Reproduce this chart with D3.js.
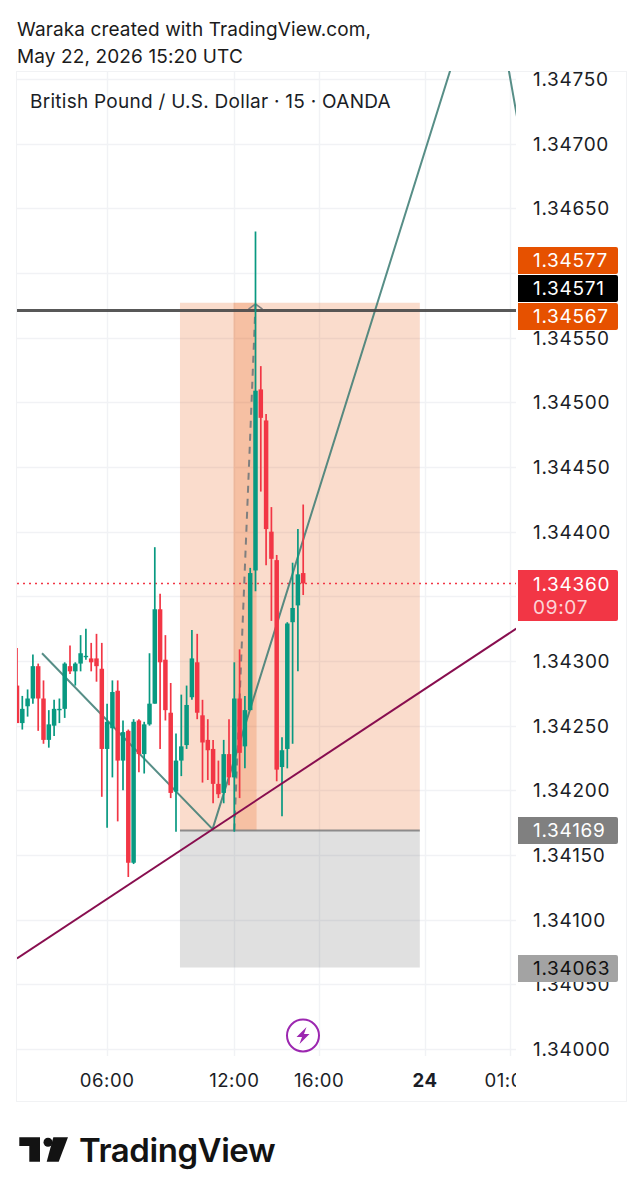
<!DOCTYPE html>
<html><head><meta charset="utf-8">
<script src="https://cdn.jsdelivr.net/npm/d3@7"></script>
<style>html,body{margin:0;background:#fff}svg{display:block}text{font-family:Inter,"Noto Sans",sans-serif}</style>
</head><body><div id="c"></div>
<script>
const opens =[1.34281,1.34252,1.34265,1.34271,1.34296,1.34271,1.34239,1.34250,1.34262,1.34263,1.34296,1.34292,1.34298,1.34303,1.34302,1.34302,1.34294,1.34232,1.34248,1.34277,1.34223,1.34246,1.34144,1.34254,1.34228,1.34251,1.34267,1.34340,1.34301,1.34260,1.34199,1.34223,1.34235,1.34272,1.34299,1.34258,1.34239,1.34232,1.34205,1.34198,1.34228,1.34210,1.34271,1.34234,1.34262,1.34370,1.34510,1.34486,1.34400,1.34378,1.34218,1.34232,1.34330,1.34343,1.34368];
const highs =[1.34310,1.34273,1.34278,1.34305,1.34298,1.34285,1.34262,1.34270,1.34271,1.34299,1.34312,1.34299,1.34320,1.34325,1.34314,1.34321,1.34314,1.34267,1.34285,1.34285,1.34254,1.34247,1.34255,1.34255,1.34253,1.34306,1.34388,1.34352,1.34320,1.34283,1.34244,1.34274,1.34281,1.34324,1.34321,1.34270,1.34255,1.34239,1.34223,1.34239,1.34255,1.34299,1.34309,1.34273,1.34372,1.34632,1.34528,1.34491,1.34419,1.34382,1.34241,1.34330,1.34376,1.34402,1.34421];
const lows  =[1.34252,1.34247,1.34257,1.34267,1.34246,1.34236,1.34233,1.34242,1.34252,1.34256,1.34290,1.34281,1.34292,1.34301,1.34292,1.34284,1.34195,1.34171,1.34210,1.34176,1.34200,1.34133,1.34143,1.34214,1.34213,1.34250,1.34267,1.34232,1.34254,1.34194,1.34168,1.34211,1.34232,1.34270,1.34255,1.34206,1.34208,1.34190,1.34194,1.34190,1.34204,1.34168,1.34194,1.34217,1.34262,1.34354,1.34431,1.34374,1.34331,1.34207,1.34180,1.34217,1.34236,1.34292,1.34351];
const closes=[1.34252,1.34263,1.34271,1.34296,1.34271,1.34239,1.34251,1.34263,1.34263,1.34298,1.34292,1.34298,1.34306,1.34304,1.34299,1.34296,1.34232,1.34253,1.34276,1.34223,1.34245,1.34144,1.34253,1.34228,1.34251,1.34267,1.34340,1.34299,1.34262,1.34198,1.34223,1.34234,1.34266,1.34302,1.34260,1.34237,1.34231,1.34205,1.34197,1.34228,1.34210,1.34271,1.34229,1.34262,1.34368,1.34509,1.34488,1.34402,1.34379,1.34216,1.34231,1.34329,1.34341,1.34367,1.34360];

const priceTicks=[1.34,1.3405,1.341,1.3415,1.342,1.3425,1.343,1.3435,1.344,1.3445,1.345,1.3455,1.346,1.3465,1.347,1.3475];
const hiddenPriceLabels=[1.3435,1.346];
const timeTickBars=[17,41,57,77,93];
const timeTickLabels=["06:00","12:00","16:00","24","01:00"];

const positionBars=[30.75,76];
const positionPrices={stop:1.34577,entry:1.34169,target:1.34063};
const bandBars=[40.85,45.2];
const levelPrice=1.34571, lastPrice=1.3436;
const zigzagBars=[4.72,36.9,88.8,96.8];
const zigzagPrices=[1.34306,1.3417,1.34849,1.34664];
const arrowBars=[41,45];
const arrowPrices=[1.34169,1.34576];
const trendBars=[0,94.2];
const trendPrices=[1.3407,1.34325];

const labels=[
 {text:"1.34577",fill:"#E65100",top:247,h:27,color:"#fff"},
 {text:"1.34571",fill:"#000",top:275,h:27,color:"#fff"},
 {text:"1.34567",fill:"#E65100",top:303,h:27,color:"#fff"},
 {text:"1.34169",fill:"#808080",top:817,h:27,color:"#fff"},
 {text:"1.34063",fill:"#a3a3a3",top:955,h:27,color:"#111"}
];

const W=643,H=1199;
const L=17,R=516,T=71,B=1101;
const x=d3.scaleLinear().domain([0,93]).range([17,17+93*5.3]);
const y=d3.scaleLinear().domain([1.34,1.3475]).range([1049,79]);
const UP="#089981",DN="#F23645",GRID="#f1f2f5",INK="#1a1d26";
const PRICE_LS="0.7px", PRICE_FS=19;

const svg=d3.select("#c").append("svg").attr("width",W).attr("height",H).attr("viewBox",[0,0,W,H]);
svg.append("rect").attr("width",W).attr("height",H).attr("fill","#fff");
const defs=svg.append("defs");
defs.append("clipPath").attr("id","pane").append("rect").attr("x",L).attr("y",T).attr("width",R-L).attr("height",1056-T);
defs.append("clipPath").attr("id","axisx").append("rect").attr("x",L).attr("y",1056).attr("width",R-L).attr("height",B-1056);

// frame
svg.append("rect").attr("x",16.5).attr("y",71.5).attr("width",610).attr("height",1030).attr("fill","none").attr("stroke","#f1f2f4");

// title
const title=svg.append("g").attr("fill","#1b1b1b").attr("font-size",19).attr("letter-spacing","0.12px");
title.append("text").attr("x",17).attr("y",36).text("Waraka created with TradingView.com,");
title.append("text").attr("x",17).attr("y",63).text("May 22, 2026 15:20 UTC");

const pane=svg.append("g").attr("clip-path","url(#pane)");
// grid
pane.append("g").selectAll("line").data(priceTicks).join("line")
 .attr("x1",L).attr("x2",R).attr("y1",d=>Math.round(y(d))+.5).attr("y2",d=>Math.round(y(d))+.5)
 .attr("stroke",GRID).attr("stroke-width",1.4);
pane.append("g").selectAll("line").data(timeTickBars).join("line")
 .attr("x1",d=>Math.round(x(d))+.5).attr("x2",d=>Math.round(x(d))+.5).attr("y1",T).attr("y2",1056)
 .attr("stroke",GRID).attr("stroke-width",1.4);

// position tool
const px0=x(positionBars[0]),px1=x(positionBars[1]);
pane.append("rect").attr("x",px0).attr("width",px1-px0).attr("y",y(positionPrices.stop)).attr("height",y(positionPrices.entry)-y(positionPrices.stop)).attr("fill","#E65100").attr("fill-opacity",.2);
pane.append("rect").attr("x",px0).attr("width",px1-px0).attr("y",y(positionPrices.entry)).attr("height",y(positionPrices.target)-y(positionPrices.entry)).attr("fill","#646464").attr("fill-opacity",.2);
pane.append("rect").attr("x",x(bandBars[0])).attr("width",x(bandBars[1])-x(bandBars[0])).attr("y",y(positionPrices.stop)).attr("height",y(positionPrices.entry)-y(positionPrices.stop)).attr("fill","#E65100").attr("fill-opacity",.2);
pane.append("line").attr("x1",px0).attr("x2",px1).attr("y1",y(positionPrices.entry)).attr("y2",y(positionPrices.entry)).attr("stroke","#7d7d7d").attr("stroke-opacity",.85).attr("stroke-width",2);

// last price + level
pane.append("line").attr("x1",L).attr("x2",R).attr("y1",y(lastPrice)).attr("y2",y(lastPrice)).attr("stroke",DN).attr("stroke-width",1.5).attr("stroke-dasharray","2 4");

// drawings behind candles
const lineGen=d3.line().x(d=>x(d[0])).y(d=>y(d[1]));
pane.append("path").attr("d",lineGen(d3.zip(zigzagBars,zigzagPrices))).attr("fill","none").attr("stroke","#3a7a72").attr("stroke-opacity",.85).attr("stroke-width",2);
pane.append("path").attr("d",lineGen(d3.zip(arrowBars,arrowPrices))).attr("fill","none").attr("stroke","#7f7f7f").attr("stroke-width",2).attr("stroke-dasharray","7 6");
const tipX=x(arrowBars[1]),tipY=y(arrowPrices[1]);
pane.append("path").attr("d",`M${tipX-7},${tipY+5}L${tipX},${tipY}L${tipX+7},${tipY+5}`).attr("fill","none").attr("stroke","#7f7f7f").attr("stroke-width",1.6);
pane.append("line").attr("x1",L).attr("x2",R).attr("y1",y(levelPrice)).attr("y2",y(levelPrice)).attr("stroke","#4a4a4a").attr("stroke-opacity",.92).attr("stroke-width",3);

// candles
const bars=d3.range(opens.length).map(i=>({i,o:opens[i],h:highs[i],l:lows[i],c:closes[i]}));
const g=pane.append("g");
g.selectAll(".w").data(bars).join("line").attr("class","w")
 .attr("x1",d=>x(d.i)).attr("x2",d=>x(d.i)).attr("y1",d=>y(d.h)).attr("y2",d=>y(d.l))
 .attr("stroke",d=>d.c>=d.o?UP:DN).attr("stroke-width",1.7);
g.selectAll(".b").data(bars).join("rect").attr("class","b")
 .attr("x",d=>x(d.i)-2.25).attr("width",4.5)
 .attr("y",d=>y(Math.max(d.o,d.c))).attr("height",d=>Math.max(1.4,y(Math.min(d.o,d.c))-y(Math.max(d.o,d.c))))
 .attr("fill",d=>d.c>=d.o?UP:DN);

// trend line
pane.append("path").attr("d",lineGen(d3.zip(trendBars,trendPrices))).attr("fill","none").attr("stroke","#880E4F").attr("stroke-width",2);

// lightning icon
const ic=svg.append("g").attr("transform","translate(303,1035.5)");
ic.append("circle").attr("r",16).attr("fill","#fff").attr("stroke","#9C27B0").attr("stroke-width",2);
ic.append("path").attr("d","M3.5,-8.5L-6.5,1.5L-1,1.5L-3.5,8.5L6.5,-1.5L1,-1.5Z").attr("fill","#9C27B0");

// price axis
svg.append("g").attr("font-size",PRICE_FS).attr("letter-spacing",PRICE_LS).attr("fill",INK).selectAll("text")
 .data(priceTicks.filter(d=>!hiddenPriceLabels.includes(d))).join("text")
 .attr("x",533).attr("y",d=>y(d)).attr("dy","0.36em").text(d=>d.toFixed(5));

// white strip of time axis
svg.append("rect").attr("x",17).attr("y",1056).attr("width",609).attr("height",45).attr("fill","#fff");
svg.append("g").attr("clip-path","url(#axisx)").attr("font-size",18.6).attr("letter-spacing","0.5px").attr("fill",INK).selectAll("text").data(timeTickBars).join("text")
 .attr("x",d=>x(d)).attr("y",1080).attr("dy","0.36em").attr("text-anchor","middle")
 .attr("font-weight",(d,i)=>timeTickLabels[i]==="24"?700:400).text((d,i)=>timeTickLabels[i]);

// price labels
const lb=svg.append("g").selectAll("g").data(labels).join("g");
const tag=(x0,x1,t,h,r)=>`M${x0},${t}H${x1-r}Q${x1},${t} ${x1},${t+r}V${t+h-r}Q${x1},${t+h} ${x1-r},${t+h}H${x0}Z`;
lb.append("path").attr("d",d=>tag(518,618,d.top,d.h,2)).attr("fill",d=>d.fill);
lb.append("text").attr("x",533).attr("y",d=>d.top+d.h/2).attr("dy","0.36em").attr("font-size",PRICE_FS).attr("letter-spacing",PRICE_LS).attr("fill",d=>d.color).text(d=>d.text);
svg.append("path").attr("d",tag(518,618,570,51,2)).attr("fill",DN);
svg.append("text").attr("x",533).attr("y",584).attr("dy","0.36em").attr("font-size",PRICE_FS).attr("letter-spacing",PRICE_LS).attr("fill","#fff").text(lastPrice.toFixed(5));
svg.append("text").attr("x",533).attr("y",607).attr("dy","0.36em").attr("font-size",PRICE_FS).attr("letter-spacing",PRICE_LS).attr("fill","#fff").attr("fill-opacity",.8).text("09:07");

// symbol legend
svg.append("text").attr("x",30).attr("y",101).attr("dy","0.36em").attr("font-size",19).attr("letter-spacing","0.27px").attr("fill",INK).text("British Pound / U.S. Dollar · 15 · OANDA");

// logo
const logo=svg.append("g").attr("fill","#131313");
logo.append("path").attr("d","M19.3,1137.3H40V1161.7H29.3V1146H19.3Z");
logo.append("circle").attr("cx",48).attr("cy",1142.3).attr("r",4.5);
logo.append("path").attr("d","M53.3,1137.3H68L58.7,1161.7H46.7Z");
logo.append("text").attr("x",79).attr("y",1161.7).attr("font-size",33).attr("font-weight",600).attr("letter-spacing","-0.45px").text("TradingView");
</script></body></html>
